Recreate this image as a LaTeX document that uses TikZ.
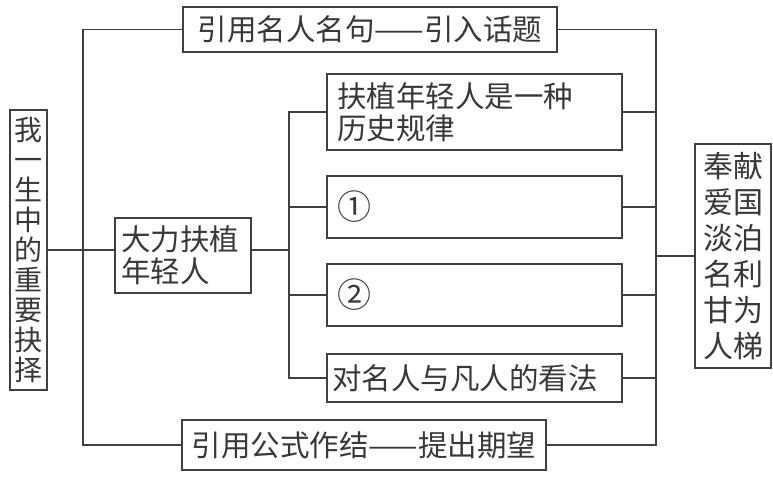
\documentclass[tikz,border=0pt]{standalone}
\usepackage{fontspec}
\setmainfont{Noto Sans CJK SC}
\begin{document}
\begin{tikzpicture}[x=1pt,y=-1pt,
  line width=1.2pt,
  every node/.style={text=black!78},
  box/.style={draw=black!75, line width=1.2pt, inner sep=0pt, font=\fontsize{29.5}{32}\selectfont},
  wire/.style={draw=black!75, line width=1.2pt}]
\useasboundingbox (0,0) rectangle (773,479);
% nodes
\node[box, minimum width=37, minimum height=280, align=center, font=\fontsize{28}{30}\selectfont] (L) at (28.5,250) {我\\一\\生\\中\\的\\重\\要\\抉\\择};
\node[box, minimum width=374, minimum height=45] (T) at (370,29.5) {引用名人名句——引入话题};
\node[box, minimum width=136, minimum height=75, text width=124, align=left] (M) at (183,255.5) {大力扶植\\年轻人};
\node[box, minimum width=295, minimum height=76, text width=275, align=left] (A1) at (474.5,112) {扶植年轻人是一种\\历史规律};
\node[box, minimum width=295, minimum height=62, text width=275, align=left, font=\fontsize{34}{36}\selectfont] (A2) at (474.5,207) {①};
\node[box, minimum width=295, minimum height=62, text width=275, align=left, font=\fontsize{34}{36}\selectfont] (A3) at (474.5,295) {②};
\node[box, minimum width=295, minimum height=48, text width=285, align=left] (A4) at (474.5,378) {对名人与凡人的看法};
\node[box, minimum width=364, minimum height=50] (B) at (364,445) {引用公式作结——提出期望};
\node[box, minimum width=76, minimum height=224, align=center, font=\fontsize{30}{36}\selectfont] (R) at (733,256) {奉献\\爱国\\淡泊\\名利\\甘为\\人梯};
% spine coordinates
\coordinate (s1) at (83,250);
\coordinate (s2) at (289,250);
\coordinate (s3) at (656,256);
% connectors
\draw[wire] (T.west) -- (T.west -| s1) -- (B.west -| s1) -- (B.west);
\draw[wire] (L.east |- s1) -- (M.west |- s1);
\draw[wire] (M.east |- s2) -- (s2);
\draw[wire] (A1.west) -- (A1.west -| s2) -- (A4.west -| s2) -- (A4.west);
\draw[wire] (A2.west) -- (A2.west -| s2);
\draw[wire] (A3.west) -- (A3.west -| s2);
\draw[wire] (T.east) -- (T.east -| s3) -- (B.east -| s3) -- (B.east);
\draw[wire] (A1.east) -- (A1.east -| s3);
\draw[wire] (A2.east) -- (A2.east -| s3);
\draw[wire] (A3.east) -- (A3.east -| s3);
\draw[wire] (A4.east) -- (A4.east -| s3);
\draw[wire] (s3) -- (R.west |- s3);
\end{tikzpicture}
\end{document}
